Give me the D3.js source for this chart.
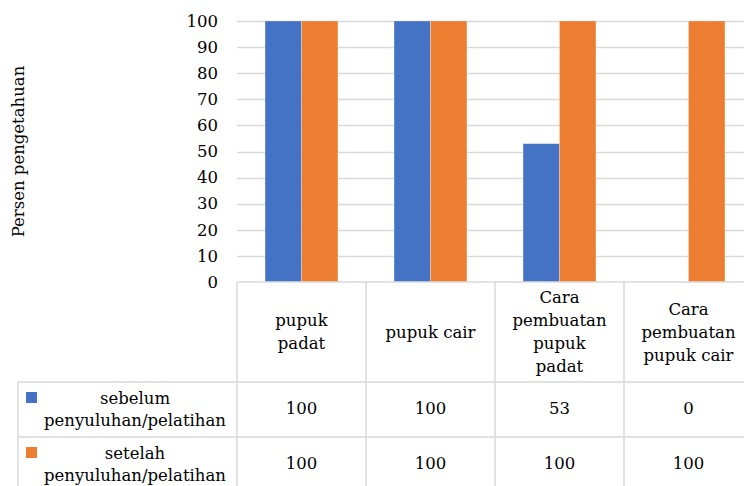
<!DOCTYPE html>
<html>
<head>
<meta charset="utf-8">
<script src="https://cdn.jsdelivr.net/npm/d3@7"></script>
<style>
  html, body { margin: 0; padding: 0; background: #fff; }
  svg { display: block; }
  text { font-family: "DejaVu Serif", "Liberation Serif", serif; fill: #000; }
</style>
</head>
<body>
<svg id="chart" width="744" height="486"></svg>
<script>
// Chart data
const categories = [
  ["pupuk", "padat"],
  ["pupuk cair"],
  ["Cara", "pembuatan", "pupuk", "padat"],
  ["Cara", "pembuatan", "pupuk cair"]
];
const seriesNames = [
  ["sebelum", "penyuluhan/pelatihan"],
  ["setelah", "penyuluhan/pelatihan"]
];
const sebelum = [100, 100, 53, 0];
const setelah = [100, 100, 100, 100];
const yTicks = [0, 10, 20, 30, 40, 50, 60, 70, 80, 90, 100];
const yTitle = "Persen pengetahuan";

const colors = ["#4472C4", "#ED7D31"];
const gridColor = "#d9d9d9";
const fontSize = 16.5;
const lineH = 23;

const svg = d3.select("#chart");
const W = 744, H = 486;

const plotLeft = 237, plotRight = 753;
const yTop = 21, yBottom = 282;
const headerBottom = 382, row1Bottom = 437, row2Bottom = 492;
const tableLeft = 18;

const catKeys = categories.map((c, i) => i);
const x0 = d3.scaleBand().domain(catKeys).range([plotLeft, plotRight]).padding(0);
const x1 = d3.scaleBand().domain([0, 1]).range([0, x0.bandwidth()]).paddingInner(0).paddingOuter(0.77);
const y = d3.scaleLinear().domain([0, 100]).range([yBottom, yTop]);

// gridlines
svg.append("g").selectAll("line")
  .data(yTicks.filter(t => t > 0))
  .join("line")
  .attr("x1", plotLeft).attr("x2", W)
  .attr("y1", d => Math.round(y(d)) + 0.5).attr("y2", d => Math.round(y(d)) + 0.5)
  .attr("stroke", gridColor).attr("stroke-width", 1.3);

// y tick labels
svg.append("g").selectAll("text")
  .data(yTicks)
  .join("text")
  .attr("x", 218)
  .attr("y", d => y(d))
  .attr("dy", "0.35em")
  .attr("text-anchor", "end")
  .attr("font-size", fontSize)
  .text(d => d);

// y axis title
svg.append("text")
  .attr("transform", `translate(24,${(yTop + yBottom) / 2}) rotate(-90)`)
  .attr("text-anchor", "middle")
  .attr("font-size", fontSize)
  .text(yTitle);

// bars
const seriesData = [sebelum, setelah];
const barG = svg.append("g");
seriesData.forEach((vals, s) => {
  barG.selectAll(null)
    .data(vals.map((v, i) => ({ v, i })))
    .join("rect")
    .attr("x", d => x0(d.i) + x1(s))
    .attr("width", x1.bandwidth())
    .attr("y", d => y(d.v))
    .attr("height", d => y(0) - y(d.v))
    .attr("fill", colors[s])
    .attr("stroke", d => d.v > 0 ? "#fff" : "none")
    .attr("stroke-opacity", 0.35)
    .attr("stroke-width", 0.75);
});

// data table lines
const tbl = svg.append("g").attr("stroke", gridColor).attr("stroke-width", 1.5);
tbl.append("line").attr("x1", plotLeft).attr("x2", W).attr("y1", yBottom).attr("y2", yBottom);
[headerBottom, row1Bottom].forEach(yy => {
  tbl.append("line").attr("x1", tableLeft).attr("x2", W).attr("y1", yy).attr("y2", yy);
});
tbl.append("line").attr("x1", tableLeft).attr("x2", tableLeft).attr("y1", headerBottom).attr("y2", H);
catKeys.forEach(i => {
  const xx = x0(i);
  tbl.append("line").attr("x1", xx).attr("x2", xx).attr("y1", yBottom).attr("y2", H);
});

// header category labels
const headG = svg.append("g");
categories.forEach((lines, i) => {
  const cx = x0(i) + x0.bandwidth() / 2;
  const cy = (yBottom + headerBottom) / 2;
  const t = headG.append("text")
    .attr("text-anchor", "middle")
    .attr("font-size", fontSize);
  lines.forEach((ln, k) => {
    t.append("tspan")
      .attr("x", cx)
      .attr("y", cy + (k - (lines.length - 1) / 2) * lineH)
      .attr("dy", "0.35em")
      .text(ln);
  });
});

// value rows with legend keys
const rowBounds = [[headerBottom, row1Bottom], [row1Bottom, row2Bottom]];
seriesData.forEach((vals, s) => {
  const [r0, r1] = rowBounds[s];
  const cy = (r0 + r1) / 2;
  // legend key
  svg.append("rect")
    .attr("x", 26).attr("y", r0 + 10)
    .attr("width", 11).attr("height", 11)
    .attr("fill", colors[s]);
  // series name
  const t = svg.append("text").attr("text-anchor", "middle").attr("font-size", fontSize);
  seriesNames[s].forEach((ln, k) => {
    t.append("tspan")
      .attr("x", 135)
      .attr("y", r0 + 16 + k * 22)
      .attr("dy", "0.35em")
      .text(ln);
  });
  // values
  svg.append("g").selectAll("text")
    .data(vals)
    .join("text")
    .attr("x", (d, i) => x0(i) + x0.bandwidth() / 2)
    .attr("y", s === 0 ? cy - 1 : 463)
    .attr("dy", "0.35em")
    .attr("text-anchor", "middle")
    .attr("font-size", fontSize)
    .text(d => d);
});
</script>
</body>
</html>
